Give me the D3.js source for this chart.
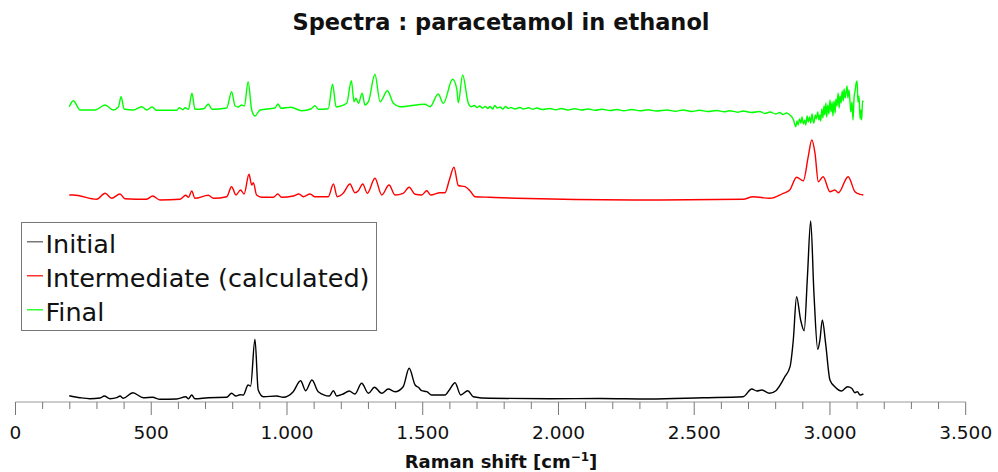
<!DOCTYPE html>
<html>
<head>
<meta charset="utf-8">
<script src="https://cdn.jsdelivr.net/npm/d3@7/dist/d3.min.js"></script>
<style>
  html, body { margin: 0; padding: 0; background: #fff; }
  svg { display: block; }
  text { font-family: "DejaVu Sans", Verdana, sans-serif; }
</style>
</head>
<body>
<svg id="chart" width="998" height="472"></svg>
<script>
// ---- Data (Raman shift in cm^-1, intensity in arbitrary units, stacked offsets included) ----
const seriesNames = ["Initial", "Intermediate (calculated)", "Final"];
const seriesColors = ["#000000", "#ff0000", "#00ff00"];
const legendSwatch = ["#555555", "#ff0000", "#00ff00"];

const initialShift = [198,238,274,312,327,348,373,385,397,432,471,505,532,594,627,637,649,661,710,778,796,812,827,839,857,866,882,894,913,962,986,1023,1050,1069,1092,1115,1156,1171,1183,1207,1229,1250,1275,1300,1322,1349,1373,1398,1428,1450,1472,1484,1496,1515,1533,1582,1598,1619,1640,1666,1686,1748,1969,2153,2337,2532,2680,2712,2731,2749,2777,2801,2834,2853,2865,2877,2892,2905,2917,2929,2941,2955,2963,2972,2984,3000,3018,3043,3065,3080,3092,3101,3111,3123];
const initialValue = [6.3,4.3,3.3,4,6,3.3,4.3,6,3.7,9.3,4.3,4.7,2.7,3,5.3,3.3,7,3.3,4.3,4.7,8.7,6,7.3,7,17,16,62.7,12,5.3,6,4.7,10.3,21.3,11.3,22,10.3,6,11.3,6,8,11,8,18.7,8.7,14.7,8.7,13,10.3,15.3,33.7,17,14.7,11.3,10.3,7,7,12,19.3,7,11.3,5.3,3.7,3.3,3.5,3,4.3,5.3,13,11,12,8.7,11.3,25.3,35.3,62,105.3,82,71.3,125.3,181,108.7,52.7,62,82,58.7,22,15.3,11,15.3,13.7,9.3,10.3,7,8];

const intermShift = [198,213,299,330,354,385,403,483,505,532,606,627,637,649,661,710,729,778,796,812,829,842,860,870,876,888,907,950,966,980,1023,1044,1060,1085,1103,1152,1171,1185,1207,1232,1250,1263,1279,1296,1324,1349,1376,1398,1428,1450,1472,1496,1515,1529,1564,1582,1598,1615,1631,1656,1674,1693,1748,1846,2276,2680,2716,2779,2828,2852,2877,2902,2920,2933,2945,2957,2975,3000,3018,3031,3067,3092,3111,3123];
const intermValue = [207,207,202.7,208.7,203.7,208,203.3,202.7,206,202,202.7,206.7,204.7,211,203.7,206.7,203.7,205.3,215.3,207,212,208,227.7,217,219.3,207,204.7,204.7,208,204.7,206,208,205.3,208,205.3,205.3,218,205.3,208.7,218,209.3,211.3,218,208.7,223.7,207,217,207,208.7,214.7,207.7,207,211.3,207,209.3,209.3,222,234.7,216.5,215.3,211.3,205.3,204.7,203.7,202,202.7,205.3,203.7,208.7,212,224.7,221.3,245.3,262,248.7,220.3,225.3,210.3,212,209.3,225.3,210.3,207.7,207];

const finalShift = [198,213,238,293,330,360,379,389,400,434,465,483,503,520,594,603,617,625,637,650,661,694,710,724,778,796,809,820,833,843,857,870,882,901,955,967,978,1014,1054,1088,1103,1115,1152,1168,1181,1220,1237,1247,1254,1263,1277,1287,1300,1324,1343,1370,1392,1416,1508,1527,1557,1576,1610,1625,1631,1647,1668,1678,
  1690,1700,1710,1720,1730,1740,1748,1758,1765,1775,1785,1795,1805,1815,1825,1840,1858,1870,1890,1905,1920,1940,1969,1990,2010,2035,2060,2085,2110,2135,2160,2190,2216,2240,2270,2300,2330,2360,2400,2430,2460,2490,2520,2550,2584,2610,2630,2660,2680,2710,2742,2760,2780,2800,2815,2827,2840,2852,2860,2866,2870,2874,2879,2883,2888,2893,2897,2902,2907,2911,2916,2920,2925,2929,2934,2938,2941,2946,2950,2955,2959,2963,2966,2970,2974,2978,2981,2985,2988,2992,2996,3000,3004,3008,3011,3015,3019,3022,3026,3030,3034,3037,3041,3045,3049,3052,3056,3059,3063,3066,3070,3074,3077,3081,3085,3089,3092,3096,3100,3103,3107,3111,3114,3117,3120,3123];
const finalValue = [295.3,301.3,292,292,297,292,295,305.3,293,292,295.3,292,295,291.7,291.7,294.3,292.3,294.3,292.7,308.7,292.7,293.3,298,292.7,294,310.3,296,295,297,296,320.3,292,286,292,294,298,293.7,294.7,291.3,293,296.3,292.7,293.3,317.7,295,298.7,321.3,300.3,303.7,298.7,308.7,297,300.3,327.7,300.3,311.3,298.7,295.3,297.7,295.3,308,298.7,322.7,313.7,299.3,327,298.7,295.3,
  296.5,294.5,296,294,295.5,293.5,295.5,293,296.5,294,295,293,295.5,293.5,294.5,293,294.5,293,294.2,292.8,294,292.5,293.5,292.3,293.5,292,293.2,292,293,291.8,292.8,291.5,292.5,291.3,292.5,291.2,292.3,291,292,290.8,292,290.5,291.7,290.5,291.5,290.2,291.3,289.8,291,289.5,290.5,288.5,290,288,289.5,287.5,289,287,285,282,278,275.3,281,277,283,279,285,278,282,277,286,280,285,279,288,281,279,287,283,290,282,287,281,293,284,296,287,299,285,297,288,302,290,300,286,301,289,303,296,309,294,306,299,311,301,313,304,309,316,304,312,300,290,300,282,305,310,318,321,300,306,283,292,282,301,300];

const xTicks = [0, 500, 1000, 1500, 2000, 2500, 3000, 3500];
const xMinorTicks = d3.range(0, 3501, 100);
const titleText = "Spectra : paracetamol in ethanol";

// ---- Layout ----
const svg = d3.select("#chart");
const x = d3.scaleLinear().domain([0, 3500]).range([15.5, 965.7]);
const y = d3.scaleLinear().domain([0, 340]).range([402, 62]);

const fmt = v => d3.format(",")(v).replace(/,/g, ".");

// Title
svg.append("text")
  .attr("x", 501).attr("y", 29.5)
  .attr("text-anchor", "middle")
  .attr("font-size", 22.5).attr("font-weight", "bold")
  .attr("fill", "#111")
  .text(titleText);

// Spectra
const line = d3.line().curve(d3.curveMonotoneX).x(d => x(d[0])).y(d => y(d[1]));
const series = [
  d3.zip(initialShift, initialValue),
  d3.zip(intermShift, intermValue),
  d3.zip(finalShift, finalValue)
];
series.forEach((s, i) => {
  svg.append("path")
    .datum(s)
    .attr("fill", "none")
    .attr("stroke", seriesColors[i])
    .attr("stroke-width", 1.4)
    .attr("stroke-linejoin", "round")
    .attr("d", line);
});

// X axis
const axisY = 402;
const ax = svg.append("g").attr("transform", `translate(0,${axisY})`);
ax.append("line").attr("x1", x(0)).attr("x2", x(3500)).attr("y1", 0).attr("y2", 0)
  .attr("stroke", "#999").attr("stroke-width", 1.2);
ax.selectAll("line.minor").data(xMinorTicks.filter(v => v % 500 !== 0)).enter()
  .append("line").attr("class", "minor")
  .attr("x1", d => x(d)).attr("x2", d => x(d)).attr("y1", 0).attr("y2", 7)
  .attr("stroke", "#777").attr("stroke-width", 1);
ax.selectAll("line.major").data(xTicks).enter()
  .append("line").attr("class", "major")
  .attr("x1", d => x(d)).attr("x2", d => x(d)).attr("y1", 0).attr("y2", 13)
  .attr("stroke", "#777").attr("stroke-width", 1);
ax.selectAll("text.tick").data(xTicks).enter()
  .append("text").attr("class", "tick")
  .attr("x", d => x(d)).attr("y", 36.5)
  .attr("text-anchor", "middle")
  .attr("font-size", 18.5).attr("fill", "#111")
  .text(d => fmt(d));

// Axis label
const lbl = svg.append("text")
  .attr("x", 501).attr("y", 468)
  .attr("text-anchor", "middle")
  .attr("font-size", 18).attr("font-weight", "bold").attr("fill", "#111");
lbl.append("tspan").text("Raman shift [cm");
lbl.append("tspan").attr("font-size", 12).attr("dy", -7).text("−1");
lbl.append("tspan").attr("dy", 7).text("]");

// Legend
const lg = svg.append("g");
lg.append("rect").attr("x", 21.5).attr("y", 222.5).attr("width", 355).attr("height", 108)
  .attr("fill", "#fff").attr("stroke", "#777").attr("stroke-width", 1);
seriesNames.forEach((n, i) => {
  const base = 253.3 + i * 34;
  lg.append("line").attr("x1", 27).attr("x2", 43).attr("y1", base - 11.5).attr("y2", base - 11.5)
    .attr("stroke", legendSwatch[i]).attr("stroke-width", 1.2);
  lg.append("text").attr("x", 45.5).attr("y", base)
    .attr("font-size", 25.5).attr("fill", "#111").text(n);
});
</script>
</body>
</html>
